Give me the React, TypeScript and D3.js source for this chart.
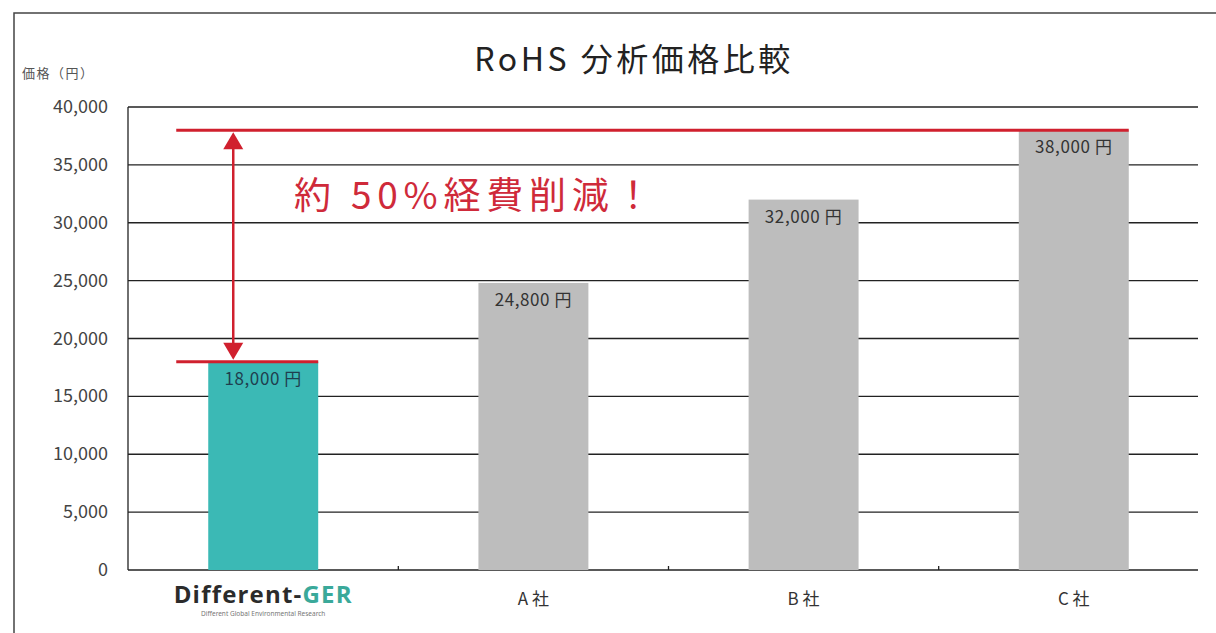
import React from "react";
import * as d3 from "d3";

const categories = ["Different-GER", "A 社", "B 社", "C 社"];
const prices = [18000, 24800, 32000, 38000];
const priceLabels = ["18,000 円", "24,800 円", "32,000 円", "38,000 円"];
const yTicks = [0, 5000, 10000, 15000, 20000, 25000, 30000, 35000, 40000];
const barColors = ["#3bb9b5", "#bdbdbd", "#bdbdbd", "#bdbdbd"];

const W = 1216;
const H = 633;
const M = { left: 128, right: 1198, bandRight: 1209, top: 107, bottom: 570 };
const FONT = "'Noto Sans CJK JP', 'Noto Sans', sans-serif";

export default function App() {
  const x = d3
    .scaleBand<string>()
    .domain(categories)
    .range([M.left, M.bandRight])
    .paddingInner(0.593)
    .paddingOuter(0.297);
  const y = d3.scaleLinear().domain([0, 40000]).range([M.bottom, M.top]);
  const fmt = d3.format(",");
  const bw = x.bandwidth();
  const step = x.step();
  const bandStarts = categories.map((c) => (x(c) as number) - (step - bw) / 2);

  const firstX = x(categories[0]) as number;
  const lastX = x(categories[3]) as number;
  const redStart = firstX - 32;
  const arrowX = firstX + 25;
  const yHigh = y(prices[3]);
  const yLow = y(prices[0]);
  const red = "#d0202e";

  return (
    <div style={{ position: "absolute", left: 0, top: 0 }}>
      <svg width={W} height={H} style={{ display: "block", background: "#fff" }}>
        <rect x={14} y={13} width={W} height={H} fill="#fff" stroke="#444" strokeWidth={1.5} />
        <text
          x={634}
          y={71}
          textAnchor="middle"
          fontFamily={FONT}
          fontSize={32}
          letterSpacing={3.5}
          fill="#222"
        >
          RoHS 分析価格比較
        </text>
        <text x={22} y={78} fontFamily={FONT} fontSize={13} letterSpacing={1.5} fill="#555">
          価格（円）
        </text>
        {yTicks.map((t) => (
          <g key={t}>
            <line x1={M.left} x2={M.right} y1={y(t)} y2={y(t)} stroke="#222" strokeWidth={1.3} />
            <text
              x={108}
              y={y(t) + 6}
              textAnchor="end"
              fontFamily={FONT}
              fontSize={18}
              fill="#444"
            >
              {fmt(t)}
            </text>
          </g>
        ))}
        <line x1={M.left} x2={M.left} y1={M.top} y2={M.bottom} stroke="#222" strokeWidth={1.3} />
        {bandStarts.slice(1).map((bx, i) => (
          <line key={i} x1={bx} x2={bx} y1={M.bottom} y2={M.bottom - 4} stroke="#222" strokeWidth={1.3} />
        ))}
        {categories.map((c, i) => (
          <g key={c}>
            <rect
              x={x(c)}
              y={y(prices[i])}
              width={bw}
              height={M.bottom - y(prices[i])}
              fill={barColors[i]}
            />
            <text
              x={(x(c) as number) + bw / 2}
              y={y(prices[i]) + 23}
              textAnchor="middle"
              fontFamily={FONT}
              fontSize={17}
              letterSpacing={0.6}
              fill={i === 0 ? "#1f3f4f" : "#333"}
            >
              {priceLabels[i]}
            </text>
          </g>
        ))}
        {categories.slice(1).map((c) => (
          <text
            key={c}
            x={(x(c) as number) + bw / 2}
            y={605}
            textAnchor="middle"
            fontFamily={FONT}
            fontSize={17}
            fill="#333"
          >
            {c}
          </text>
        ))}
        <text
          x={(x(categories[0]) as number) + bw / 2}
          y={603}
          textAnchor="middle"
          fontFamily="'Open Sans', 'Noto Sans', sans-serif"
          fontWeight="bold"
          fontSize={24}
          letterSpacing={1.2}
          fill="#2b2b2b"
        >
          Different-<tspan fill="#3aa99a">GER</tspan>
        </text>
        <text
          x={(x(categories[0]) as number) + bw / 2}
          y={616}
          textAnchor="middle"
          fontFamily="'Noto Sans', sans-serif"
          fontSize={6.5}
          fill="#777"
        >
          Different Global Environmental Research
        </text>
        <line x1={redStart} x2={lastX + bw} y1={yHigh} y2={yHigh} stroke={red} strokeWidth={3} />
        <line x1={redStart} x2={firstX + bw} y1={yLow} y2={yLow} stroke={red} strokeWidth={3} />
        <line x1={arrowX} x2={arrowX} y1={yHigh + 10} y2={yLow - 10} stroke={red} strokeWidth={2.5} />
        <path
          d={`M${arrowX},${yHigh + 2} L${arrowX - 10},${yHigh + 19} L${arrowX + 10},${yHigh + 19} Z`}
          fill={red}
        />
        <path
          d={`M${arrowX},${yLow - 2} L${arrowX - 10},${yLow - 19} L${arrowX + 10},${yLow - 19} Z`}
          fill={red}
        />
        <text x={294} y={209} fontFamily={FONT} fontSize={37} letterSpacing={5.8} fill="#cf2a3a">
          約 50%経費削減！
        </text>
      </svg>
    </div>
  );
}
